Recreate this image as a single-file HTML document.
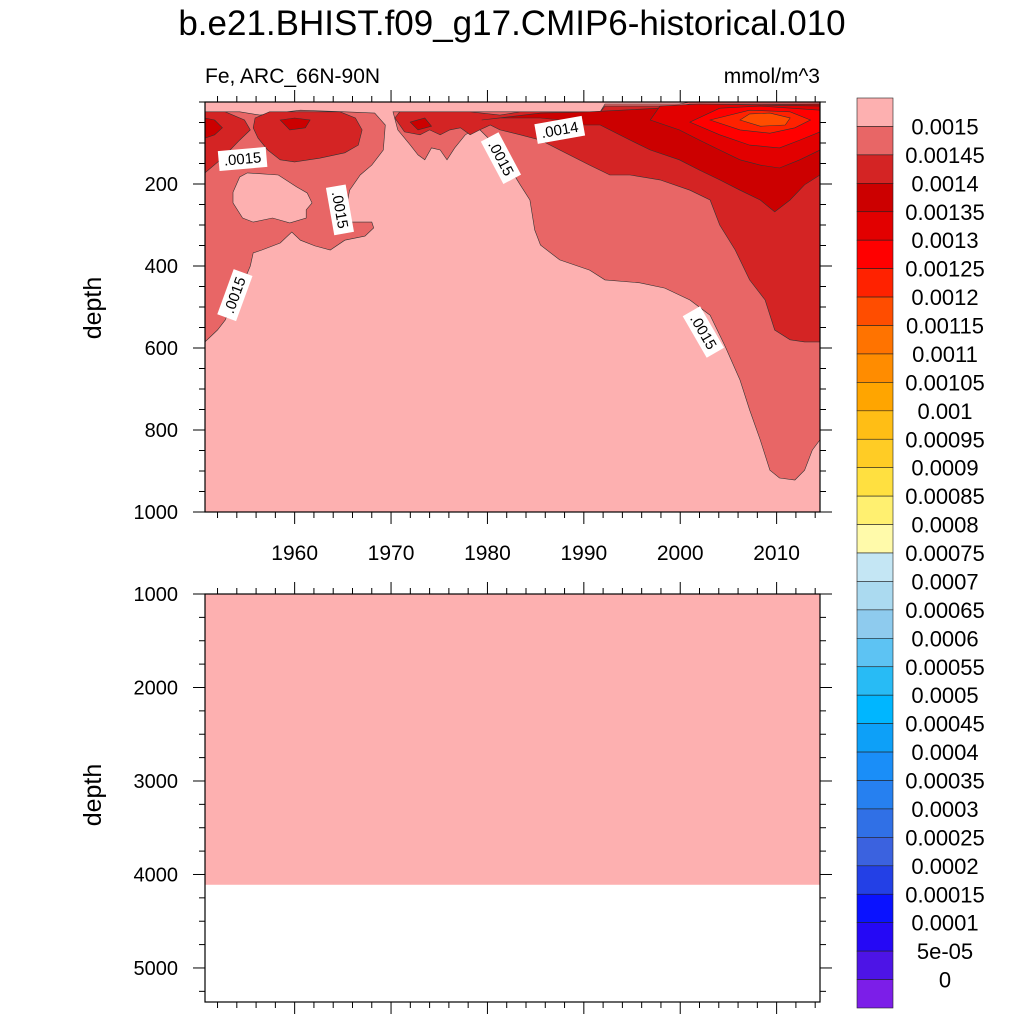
<!DOCTYPE html>
<html><head><meta charset="utf-8">
<style>
body{margin:0;background:#fff;}
svg{display:block;font-family:"Liberation Sans",Arial,sans-serif;}
</style></head>
<body>
<svg id="chart" width="1024" height="1024" viewBox="0 0 1024 1024" xmlns="http://www.w3.org/2000/svg">
<text x="512" y="35" font-size="35" text-anchor="middle">b.e21.BHIST.f09_g17.CMIP6-historical.010</text>
<text x="205" y="83" font-size="21">Fe, ARC_66N-90N</text>
<text x="820" y="83" font-size="21" text-anchor="end">mmol/m^3</text>
<g id="upper"></g>
<g id="lower"></g>
<g id="cbar"></g>
</svg>
<script>
// ---- data ----
const levelLabels = ["0.0015","0.00145","0.0014","0.00135","0.0013","0.00125","0.0012","0.00115","0.0011","0.00105","0.001","0.00095","0.0009","0.00085","0.0008","0.00075","0.0007","0.00065","0.0006","0.00055","0.0005","0.00045","0.0004","0.00035","0.0003","0.00025","0.0002","0.00015","0.0001","5e-05","0"];
const levelColors = ["#FDB0B0","#E86666","#D42424","#CC0000","#E20000","#FF0000","#FF2200","#FF4D00","#FF7300","#FF8C00","#FFA500","#FFBE15","#FFCC25","#FFE040","#FFF070","#FFFAAA","#C4E6F4","#ABDAF0","#8ECBEE","#5DC3F3","#28BBF5","#00B6FF","#0DA0F8","#1A8EF8","#2680F0","#3070E6","#3B62DF","#2340E6","#0A12FF","#2508F5","#4D14E6","#7C1EE8"];
const yearTicks = [1960,1970,1980,1990,2000,2010];
const depthTicksUpper = [200,400,600,800,1000];
const depthTicksLower = [1000,2000,3000,4000,5000];
// contour regions: [colorIndex, [[year,depth],...]]
const regionLeft145 = [[1950.7,24],[1954.3,24],[1956.4,32],[1960.6,20],[1965.2,24],[1968.3,27],[1969.4,56],[1969.2,117],[1968,154],[1966.8,178],[1965.7,215],[1965.2,276],[1965.9,293],[1968,293],[1968.2,307],[1967.3,327],[1965.2,337],[1963.7,361],[1962.1,351],[1960.6,337],[1959.7,317],[1958.5,344],[1956.6,361],[1955.7,368],[1955.4,400],[1954.8,434],[1954.1,459],[1952.8,532],[1952,556],[1950.7,585]];
const holeLeft15 = [[1953.6,220],[1954.3,183],[1955.1,173],[1958.3,178],[1960.2,207],[1961.3,222],[1961.8,246],[1961.2,263],[1961.2,283],[1959.5,295],[1957.7,283],[1955.7,293],[1954.6,283],[1953.6,246]];
const regionRight145 = [[1970.2,24],[1991.7,24],[1992.2,5],[1999.9,5],[2001,0],[2014.5,0],[2014.5,824],[2013.7,849],[2012.9,898],[2011.9,922],[2010.3,917],[2009.3,898],[2008.3,824],[2007.2,751],[2006.2,678],[2004.6,593],[2003.1,520],[2001,483],[1998.4,454],[1995.8,441],[1992.2,434],[1990.6,410],[1987.5,385],[1985.5,349],[1984.9,312],[1984.4,239],[1983.4,202],[1981.8,141],[1980.3,93],[1979,63],[1977.7,80],[1976.6,112],[1975.8,141],[1975.1,117],[1974.2,112],[1973.5,141],[1972.8,129],[1972,105],[1970.7,68]];
const regionLeft14a = [[1950.7,24],[1952.8,24],[1954.8,44],[1955.4,68],[1954.3,93],[1953.3,117],[1952.3,141],[1950.7,173]];
const regionLeft14b = [[1955.9,39],[1957.4,24],[1964.7,24],[1966.3,39],[1967,68],[1966.6,105],[1965.2,124],[1962.6,137],[1960,146],[1958.5,141],[1957.2,117],[1956.2,88],[1955.7,63]];
const regionRight14 = [[1970.4,39],[1970.9,24],[1978.2,24],[1981.3,32],[1983.4,24],[1991.7,24],[1992.2,10],[1999.9,10],[2001,5],[2014.5,5],[2014.5,585],[2012.9,585],[2011.4,580],[2009.8,556],[2008.8,483],[2007.2,434],[2005.7,361],[2004.1,300],[2003.1,239],[2001,215],[1997.9,190],[1994.8,178],[1992.7,178],[1990.6,154],[1987.5,117],[1985.5,93],[1983.4,80],[1981.3,68],[1980.3,56],[1979.2,68],[1978.2,80],[1977.2,63],[1976.1,68],[1975.1,80],[1974,68],[1973,80],[1971.4,73]];
const regionLeft135 = [[1950.7,39],[1951.7,44],[1952.5,63],[1951.7,80],[1950.7,88]];
const regionMid135a = [[1958.5,44],[1960,39],[1961.6,44],[1961.1,63],[1959.5,68]];
const regionMid135b = [[1972,49],[1973.5,39],[1974.2,59],[1972.8,68]];
const regionRight135 = [[1979.4,44],[1981.3,39],[1985.5,39],[1987.5,44],[1989.1,56],[1991.7,56],[1994.8,93],[1996.9,117],[1999.9,141],[2002,166],[2004.1,190],[2006.2,215],[2008.3,239],[2009.8,268],[2011.4,239],[2012.9,202],[2014.5,178],[2014.5,5],[2002,10],[1990.6,24],[1985.5,27]];
const regionRight13 = [[1996.9,44],[1999.9,68],[2002,93],[2004.1,117],[2006.2,141],[2008.3,154],[2010.3,161],[2012.4,141],[2014.5,117],[2014.5,10],[2002,5],[1997.9,10]];
const regionRight125 = [[2001,49],[2004.1,80],[2007.2,105],[2010.3,112],[2012.4,93],[2014.5,73],[2014.5,20],[2008.3,10],[2004.1,15]];
const regionRight12 = [[2003.1,44],[2006.2,68],[2009.3,76],[2011.9,63],[2013.5,44],[2011.4,24],[2007.2,20]];
const regionRight115 = [[2006.2,44],[2008.3,59],[2010.9,56],[2011.4,39],[2009.3,27],[2007.2,29]];
const regionList = [[1,regionLeft145],[0,holeLeft15],[1,regionRight145],[2,regionLeft14a],[2,regionLeft14b],[2,regionRight14],[3,regionLeft135],[3,regionMid135a],[3,regionMid135b],[3,regionRight135],[4,regionRight13],[5,regionRight125],[6,regionRight12],[7,regionRight115]];
// contour labels: [year, depth, text, angle]
const contourLabels = [[1954.6,139,".0015",-5],[1964.7,263,".0015",80],[1953.8,471,".0015",-70],[1981.4,137,".0015",62],[1987.5,68,".0014",-10],[2002.4,561,".0015",60]];
const lowerFillDepth = 4110;

// ---- axes ----
const X0=205,X1=820, YR0=1950.7, YR1=2014.5;
const xs = y => X0 + (y-YR0)/(YR1-YR0)*(X1-X0);
const UY0=102,UY1=512; const uys = d => UY0 + d/1000*(UY1-UY0);
const LY0=594,LY1=1002; const lys = d => LY0 + (d-1000)/(5364-1000)*(LY1-LY0);
const NS="http://www.w3.org/2000/svg";
function mk(tag,attrs,parent){const e=document.createElementNS(NS,tag);for(const k in attrs)e.setAttribute(k,attrs[k]);parent.appendChild(e);return e;}
const up=document.getElementById('upper'), lo=document.getElementById('lower'), cb=document.getElementById('cbar');

let bg=mk('rect',{x:X0,y:UY0,width:X1-X0,height:UY1-UY0,fill:levelColors[0]},up);


regionList.forEach((r,i)=>{
  const pts=r[1].map(p=>xs(p[0]).toFixed(1)+','+uys(p[1]).toFixed(1)).join(' ');
  const pg=mk('polygon',{points:pts,fill:levelColors[r[0]],stroke:'#333',"stroke-width":0.6},up);
  
  
});
contourLabels.forEach((c,i)=>{
  const g=mk('g',{transform:`translate(${xs(c[0])},${uys(c[1])}) rotate(${c[3]})`},up);
  
  
  mk('rect',{x:-24,y:-10,width:48,height:20,fill:'#fff'},g);
  const t=mk('text',{x:0,y:5,"font-size":15,"text-anchor":"middle"},g);t.textContent=c[2];
});
let lf=mk('rect',{x:X0,y:LY0,width:X1-X0,height:lys(lowerFillDepth)-LY0,fill:levelColors[0]},lo);



function frame(parent,ya,yb,name){
  const f=mk('rect',{x:X0,y:ya,width:X1-X0,height:yb-ya,fill:'none',stroke:'#000',"stroke-width":1.2},parent);
  
  
  for(let yr=1952;yr<=2014;yr+=2){
    const major=yr%10===0, L=major?12:6, x=xs(yr);
    mk('line',{x1:x,y1:yb,x2:x,y2:yb+L,stroke:'#000'},parent);
    mk('line',{x1:x,y1:ya,x2:x,y2:ya-L,stroke:'#000'},parent);
  }
}
function yaxis(parent,ys,d0,d1,majors,minorStep,name){
  for(let d=d0;d<=d1+0.1;d+=minorStep){
    const major=majors.includes(d), L=major?12:6, y=ys(d);
    mk('line',{x1:X0,y1:y,x2:X0-L,y2:y,stroke:'#000'},parent);
    mk('line',{x1:X1,y1:y,x2:X1+L,y2:y,stroke:'#000'},parent);
  }
  majors.forEach(d=>{const t=mk('text',{x:178,y:ys(d)+7,"font-size":20,"text-anchor":"end"},parent);t.textContent=d;
    
    });
}
frame(up,UY0,UY1,'upper-plot-frame');
yaxis(up,uys,0,1000,depthTicksUpper,50,'upper-y');
yearTicks.forEach(yr=>{const t=mk('text',{x:xs(yr),y:560,"font-size":21,"text-anchor":"middle"},up);t.textContent=yr;
  
  });
frame(lo,LY0,LY1,'lower-plot-frame');
yaxis(lo,lys,1000,5250,depthTicksLower,250,'lower-y');
[[308,'upper-y-axis-title'],[795,'lower-y-axis-title']].forEach(a=>{
  const t=mk('text',{x:0,y:0,"font-size":25,"text-anchor":"middle",transform:`translate(101,${a[0]}) rotate(-90)`},document.getElementById('chart'));
  t.textContent='depth';
  
  
});
const CBX=857,CBW=36,CBY=98,CBH=(1008-98)/levelColors.length;
levelColors.forEach((c,i)=>{
  const r=mk('rect',{x:CBX,y:CBY+i*CBH,width:CBW,height:CBH,fill:c,stroke:'#222',"stroke-width":0.6},cb);
  
  
});
levelLabels.forEach((l,i)=>{
  const t=mk('text',{x:945,y:CBY+(i+1)*CBH+8,"font-size":22,"text-anchor":"middle"},cb);t.textContent=l;
  
  
});
</script>
</body></html>
